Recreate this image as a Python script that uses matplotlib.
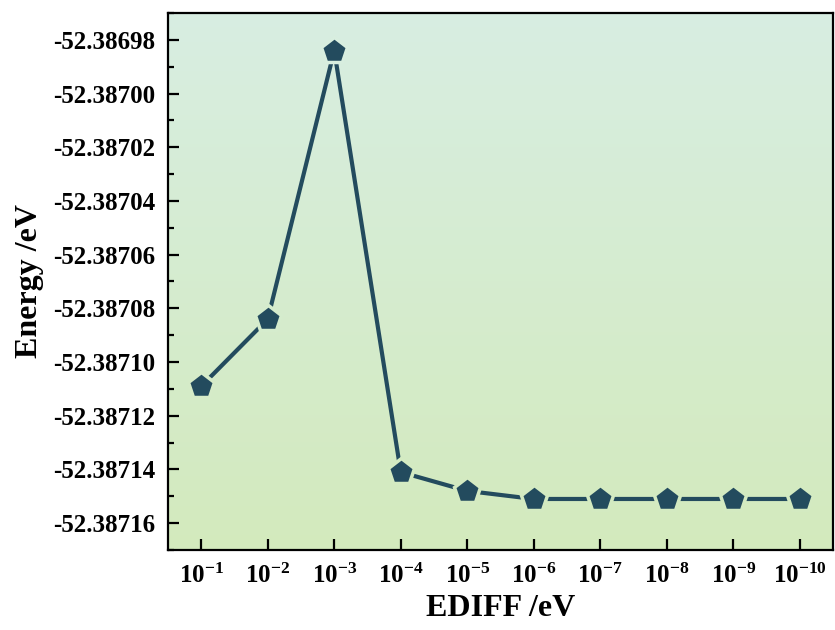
import numpy as np
import matplotlib
matplotlib.use('Agg')
import matplotlib.pyplot as plt
from matplotlib.ticker import MultipleLocator, FormatStrFormatter
from matplotlib.colors import to_rgb

# EDIFF convergence test
ediff_exp = [1, 2, 3, 4, 5, 6, 7, 8, 9, 10]
energy = [-52.387109, -52.387084, -52.386984, -52.387141, -52.387148,
          -52.387151, -52.387151, -52.387151, -52.387151, -52.387151]
xlabels = [r'$10^{-%d}$' % e for e in ediff_exp]

plt.rcParams['font.family'] = ['Liberation Serif', 'DejaVu Serif']
plt.rcParams['font.weight'] = 'bold'
plt.rcParams['mathtext.fontset'] = 'custom'
plt.rcParams['mathtext.rm'] = 'Liberation Serif:bold'
plt.rcParams['mathtext.it'] = 'Liberation Serif:bold'
plt.rcParams['mathtext.bf'] = 'Liberation Serif:bold'

fig = plt.figure(figsize=(8.35, 6.3), dpi=100)
ax = fig.add_axes([0.2012, 0.127, 0.7964, 0.8524])

ymin, ymax = -52.387170, -52.386970
ax.set_xlim(0.5, 10.5)
ax.set_ylim(ymin, ymax)

# gradient background
top_c = np.array(to_rgb('#d8eee2'))
bot_c = np.array(to_rgb('#d3eabd'))
t = np.linspace(0, 1, 256)[:, None]
grad = (top_c[None, :] * (1 - t) + bot_c[None, :] * t)[:, None, :]
ax.imshow(grad, extent=[0.5, 10.5, ymin, ymax], aspect='auto', zorder=0)

line_c = '#234b5e'
ax.plot(ediff_exp, energy, '-', color=line_c, lw=3, zorder=2)
for xi, yi in zip(ediff_exp, energy):
    f = (ymax - yi) / (ymax - ymin)
    bg = top_c * (1 - f) + bot_c * f
    ax.plot(xi, yi, marker='p', ms=20, color=line_c, mec=bg, mew=2.5,
            ls='none', zorder=3)

ax.set_xticks(ediff_exp)
ax.set_xticklabels(xlabels)
ax.yaxis.set_major_locator(MultipleLocator(0.00002))
ax.yaxis.set_minor_locator(MultipleLocator(0.00001))
ax.yaxis.set_major_formatter(FormatStrFormatter('%.5f'))
ax.get_yaxis().get_offset_text().set_visible(False)

ax.tick_params(axis='both', which='major', direction='in', length=8, width=1.6,
               labelsize=18, pad=9)
ax.tick_params(axis='y', which='minor', direction='in', length=4, width=1.6)
ax.tick_params(axis='x', labelsize=18, pad=10)
for s in ax.spines.values():
    s.set_linewidth(1.6)

ax.set_xlabel('EDIFF /eV', fontsize=23, fontweight='bold', labelpad=4)
ax.set_ylabel('Energy /eV', fontsize=23, fontweight='bold', labelpad=7)

fig.savefig('out.png', dpi=100)
